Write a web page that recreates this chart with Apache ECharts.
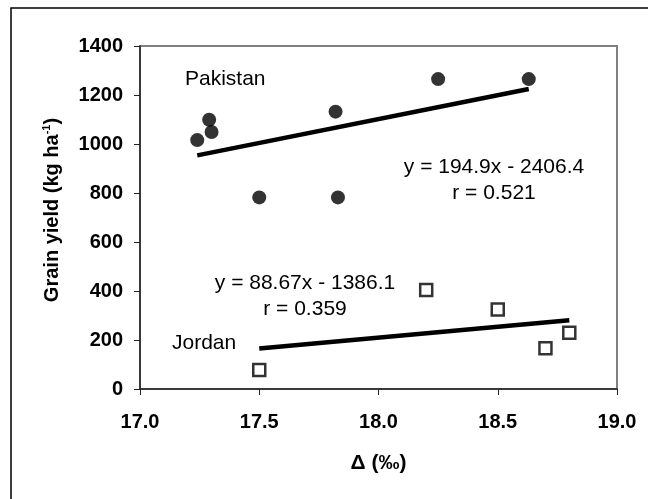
<!DOCTYPE html>
<html>
<head>
<meta charset="utf-8">
<script src="https://cdn.jsdelivr.net/npm/echarts@6/dist/echarts.min.js"></script>
<style>
  html, body { margin: 0; padding: 0; background: #fff; }
  #chart { width: 648px; height: 499px; }
</style>
</head>
<body>
<div id="chart"></div>
<script>
// Pakistan: delta (‰) vs grain yield
var pakistanX = [17.24, 17.29, 17.30, 17.50, 17.82, 17.83, 18.25, 18.63];
var pakistanY = [1016, 1099, 1049, 782, 1132, 782, 1265, 1265];
// Jordan
var jordanX = [17.50, 18.20, 18.50, 18.70, 18.80];
var jordanY = [78, 404, 325, 166, 230];
// regression lines (slope, intercept, x range)
var pakFit = { a: 194.9, b: -2406.4, x0: 17.24, x1: 18.63 };
var jorFit = { a: 88.67, b: -1386.1, x0: 17.50, x1: 18.80 };

var xTicks = [17.0, 17.5, 18.0, 18.5, 19.0];
var yTicks = [0, 200, 400, 600, 800, 1000, 1200, 1400];

function pairs(xs, ys) {
  return xs.map(function (x, i) { return [x, ys[i]]; });
}
function fitLine(f) {
  return [[f.x0, f.a * f.x0 + f.b], [f.x1, f.a * f.x1 + f.b]];
}

var chart = echarts.init(document.getElementById('chart'));
var font = 'Liberation Sans, Arial, sans-serif';

var option = {
  backgroundColor: '#fff',
  animation: false,
  grid: { left: 140, top: 46, width: 477, height: 343, show: true, borderColor: '#808080', borderWidth: 2, backgroundColor: 'transparent' },
  xAxis: {
    type: 'value', min: xTicks[0], max: xTicks[xTicks.length - 1], interval: 0.5,
    name: 'Δ (‰)', nameLocation: 'middle', nameGap: 64,
    nameTextStyle: { fontFamily: font, fontWeight: 'bold', fontSize: 21, color: '#000' },
    axisLine: { show: true, lineStyle: { color: '#222', width: 1.5 } },
    axisTick: { show: true, length: 6, lineStyle: { color: '#222' } },
    axisLabel: { margin: 23, fontFamily: font, fontWeight: 'bold', fontSize: 20, color: '#000',
      formatter: function (v) { return v.toFixed(1); } },
    splitLine: { show: false }
  },
  yAxis: {
    type: 'value', min: yTicks[0], max: yTicks[yTicks.length - 1], interval: 200,
    axisLine: { show: true, lineStyle: { color: '#222', width: 1.5 } },
    axisTick: { show: true, length: 6, lineStyle: { color: '#222' } },
    axisLabel: { margin: 17, fontFamily: font, fontWeight: 'bold', fontSize: 20, color: '#000',
      formatter: function (v) { return String(v); } },
    splitLine: { show: false }
  },
  series: [
    { type: 'line', data: fitLine(pakFit), symbol: 'none', lineStyle: { color: '#000', width: 4.5 }, z: 2 },
    { type: 'line', data: fitLine(jorFit), symbol: 'none', lineStyle: { color: '#000', width: 4.5 }, z: 2 },
    { type: 'scatter', data: pairs(pakistanX, pakistanY), symbol: 'circle', symbolSize: 14,
      itemStyle: { color: '#000' }, z: 3 },
    { type: 'scatter', data: pairs(jordanX, jordanY), symbol: 'rect', symbolSize: 12,
      itemStyle: { color: '#fff', borderColor: '#000', borderWidth: 2.5 }, z: 3 }
  ],
  graphic: [
    { type: 'rect', shape: { x: 11, y: 8, width: 700, height: 600 }, style: { fill: 'none', stroke: '#000', lineWidth: 1.5 }, z: -1 },
    { type: 'text', x: 52, y: 210, rotation: Math.PI / 2,
      style: { text: '{n|Grain yield (kg ha}{s|-1}{n|)}', align: 'center', verticalAlign: 'middle',
        rich: {
          n: { font: 'bold 20px ' + font, fill: '#000' },
          s: { font: 'bold 11px ' + font, fill: '#000', padding: [0, 0, 10, 0] }
        } } },
    { type: 'text', x: 185, y: 79, style: { text: 'Pakistan', font: '21px ' + font, fill: '#000', verticalAlign: 'middle' } },
    { type: 'text', x: 494, y: 167, style: { text: 'y = 194.9x - 2406.4', font: '21px ' + font, fill: '#000', align: 'center', verticalAlign: 'middle' } },
    { type: 'text', x: 494, y: 193, style: { text: 'r = 0.521', font: '21px ' + font, fill: '#000', align: 'center', verticalAlign: 'middle' } },
    { type: 'text', x: 305, y: 283, style: { text: 'y = 88.67x - 1386.1', font: '21px ' + font, fill: '#000', align: 'center', verticalAlign: 'middle' } },
    { type: 'text', x: 305, y: 309, style: { text: 'r = 0.359', font: '21px ' + font, fill: '#000', align: 'center', verticalAlign: 'middle' } },
    { type: 'text', x: 172, y: 343, style: { text: 'Jordan', font: '21px ' + font, fill: '#000', verticalAlign: 'middle' } }
  ]
};
chart.setOption(option);
</script>
</body>
</html>
